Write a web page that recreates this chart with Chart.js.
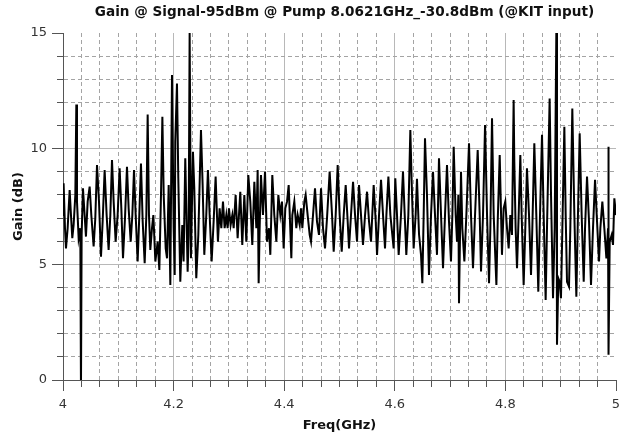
<!DOCTYPE html>
<html lang="en">
<head>
<meta charset="UTF-8">
<title>Gain @ Signal-95dBm @ Pump 8.0621GHz_-30.8dBm</title>
<script src="https://cdn.jsdelivr.net/npm/chart.js@4"></script>
<style>
  html, body { margin: 0; padding: 0; background: #ffffff; }
  #gainChart { display: block; }
</style>
</head>
<body>
<canvas id="gainChart" width="619" height="437"></canvas>
<script>
// Gain trace: frequency (GHz) and gain (dB), peaks and valleys of the sweep
const freqGHz = [
  4.0000,4.0011,4.0036,4.0054,4.0084,4.0120,4.0144,4.0168,4.0192,4.0223,
  4.0241,4.0253,4.0283,4.0313,4.0325,4.0337,4.0361,4.0391,4.0415,4.0446,
  4.0482,4.0512,4.0554,4.0584,4.0615,4.0651,4.0687,4.0717,4.0753,4.0789,
  4.0825,4.0856,4.0886,4.0916,4.0952,4.0988,4.1024,4.1055,4.1085,4.1121,
  4.1157,4.1187,4.1224,4.1254,4.1284,4.1314,4.1350,4.1380,4.1410,4.1441,
  4.1477,4.1507,4.1531,4.1555,4.1579,4.1609,4.1634,4.1670,4.1712,4.1742,
  4.1772,4.1797,4.1821,4.1857,4.1881,4.1911,4.1941,4.1971,4.2001,4.2020,
  // 4.20 - 4.40
  4.2030,4.2061,4.2085,4.2121,4.2157,4.2181,4.2211,4.2254,4.2272,4.2290,
  4.2314,4.2350,4.2374,4.2410,4.2447,4.2495,4.2525,4.2555,4.2591,4.2621,
  4.2652,4.2688,4.2724,4.2760,4.2784,4.2802,4.2832,4.2863,4.2893,4.2923,
  4.2953,4.2977,4.3001,4.3031,4.3062,4.3086,4.3122,4.3158,4.3206,4.3242,
  4.3279,4.3315,4.3351,4.3387,4.3423,4.3460,4.3496,4.3520,4.3538,4.3556,
  4.3580,4.3616,4.3653,4.3689,4.3725,4.3749,4.3785,4.3821,4.3858,4.3894,
  4.3930,4.3960,
  // 4.40 - 4.60
  4.3990,4.4020,4.4051,4.4081,4.4129,4.4147,4.4183,4.4219,4.4244,4.4280,
  4.4304,4.4328,4.4364,4.4388,4.4424,4.4461,4.4485,4.4521,4.4557,4.4593,
  4.4629,4.4666,4.4702,4.4738,4.4774,4.4822,4.4865,4.4895,4.4931,4.4967,
  4.5003,4.5040,4.5076,4.5112,4.5148,4.5172,4.5208,4.5245,4.5281,4.5317,
  4.5353,4.5389,4.5425,4.5462,4.5498,4.5534,4.5570,4.5618,4.5655,4.5679,
  4.5715,4.5751,4.5787,4.5823,4.5848,4.5884,4.5920,
  // 4.60 - 4.80
  4.5979,4.6009,4.6040,4.6070,4.6112,4.6148,4.6184,4.6208,4.6245,4.6281,
  4.6305,4.6341,4.6377,4.6401,4.6438,4.6474,4.6498,4.6522,4.6546,4.6582,
  4.6618,4.6655,4.6691,4.6727,4.6763,4.6799,4.6836,4.6872,4.6908,4.6944,
  4.6980,4.7016,4.7041,4.7065,4.7101,4.7125,4.7149,4.7161,4.7197,4.7221,
  4.7258,4.7294,4.7342,4.7378,4.7414,4.7451,4.7499,4.7535,4.7559,4.7595,
  4.7632,4.7668,4.7704,4.7728,4.7758,4.7788,4.7837,4.7861,4.7897,
  // 4.80 - 5.00
  4.7938,4.7968,4.7998,4.8029,4.8059,4.8089,4.8119,4.8149,4.8161,4.8185,
  4.8210,4.8240,4.8270,4.8294,4.8330,4.8360,4.8390,4.8427,4.8463,4.8487,
  4.8523,4.8559,4.8595,4.8620,4.8662,4.8692,4.8728,4.8752,4.8800,4.8825,
  4.8861,4.8891,4.8921,4.8933,4.8957,4.8981,4.9005,4.9030,4.9066,4.9090,
  4.9114,4.9150,4.9174,4.9210,4.9247,4.9283,4.9307,4.9343,4.9379,4.9416,
  4.9440,4.9476,4.9512,4.9548,4.9584,4.9621,4.9657,4.9693,4.9717,4.9753,
  4.9789,4.9826,4.9856,4.9862,4.9868,4.9886,4.9922,4.9946,4.9970,5.0000
];

const gainDb = [
  7.13,8.50,6.56,5.69,6.56,8.21,7.13,6.13,6.70,8.00,
  11.91,7.71,6.13,6.56,-0.5,6.27,8.29,7.13,6.20,7.71,
  8.36,7.13,5.77,6.99,9.29,7.71,5.33,6.85,9.08,7.13,
  5.62,7.13,9.51,7.71,5.98,7.13,9.15,7.42,5.26,6.99,
  9.22,7.42,5.98,7.13,9.08,7.13,5.12,7.13,9.36,6.85,
  5.05,7.13,11.48,7.13,5.62,6.56,7.13,5.12,5.98,4.76,
  8.00,11.38,8.00,5.69,5.26,8.43,4.11,13.18,6.56,4.54,
  // 4.20 - 4.40
  10.30,12.82,8.72,4.25,6.70,5.12,9.58,4.68,6.27,15.05,
  5.26,9.87,8.29,4.40,6.27,10.81,8.43,5.41,7.13,9.08,
  7.13,5.12,6.85,8.79,7.13,5.98,7.42,6.56,7.71,6.56,
  7.13,6.56,7.42,6.70,7.13,6.56,8.00,6.13,8.14,5.84,
  8.00,5.98,8.86,7.71,5.84,8.57,6.56,9.08,4.18,6.56,
  8.86,7.13,9.01,5.98,6.56,5.41,8.86,7.13,5.98,8.00,
  7.13,7.71,
  // 4.40 - 4.60
  5.69,7.42,7.71,8.43,5.26,7.13,7.71,6.56,7.13,6.70,
  7.42,6.56,7.71,8.00,7.13,6.27,5.98,7.13,8.29,6.85,
  6.27,8.29,6.56,5.69,6.99,9.01,7.13,5.55,7.13,9.29,
  7.13,5.55,7.13,8.43,6.85,5.69,7.13,8.57,7.13,5.98,
  8.43,7.13,5.84,7.13,8.14,6.85,5.98,8.43,6.85,5.41,
  7.13,8.65,7.13,5.69,7.13,8.79,7.13,
  // 4.60 - 4.80
  5.69,8.72,7.13,5.41,7.13,9.01,6.85,5.41,7.13,10.81,
  8.57,5.69,7.13,8.70,6.30,5.41,4.18,7.13,10.45,8.00,
  4.54,7.13,9.00,7.13,5.41,9.58,7.13,4.83,7.13,9.29,
  6.85,5.12,7.13,10.08,7.13,5.98,8.00,3.32,9.00,6.56,
  5.12,7.13,10.23,7.13,4.83,7.13,9.94,7.13,4.69,7.13,
  11.02,7.13,4.18,6.56,11.31,7.13,4.11,6.85,9.72,
  // 4.80 - 5.00
  5.41,7.42,7.71,6.56,5.69,7.13,6.27,12.10,9.44,6.56,
  4.83,7.13,9.72,7.13,4.11,6.56,9.15,7.13,4.54,6.56,
  10.23,7.13,3.82,6.56,10.60,7.13,3.46,6.56,12.17,8.00,
  3.53,6.56,15.05,1.52,4.40,4.25,3.53,6.56,10.95,7.13,
  4.25,4.04,6.56,11.74,7.13,3.60,6.56,10.66,7.13,4.25,
  6.56,8.79,6.85,4.11,6.56,8.65,6.85,5.12,6.56,7.71,
  6.56,5.26,6.56,10.08,1.09,5.98,6.27,5.84,7.85,7.13
];

// Labelled (major) ticks; minor ticks sit in between
const xMajorTicks = [4, 4.2, 4.4, 4.6, 4.8, 5];
const xTickLabels = ['4', '4.2', '4.4', '4.6', '4.8', '5'];
const yMajorTicks = [0, 5, 10, 15];
const yTickLabels = ['0', '5', '10', '15'];
const xMinorPerMajor = 6;   // 0.2 GHz split in 6
const yMinorPerMajor = 5;   // 5 dB split in 5

const chartTitle = 'Gain @ Signal-95dBm @ Pump 8.0621GHz_-30.8dBm (@KIT input)';

function buildTicks(majors, perMajor) {
  const out = [];
  for (let i = 0; i < majors.length - 1; i++) {
    const step = (majors[i + 1] - majors[i]) / perMajor;
    for (let k = 0; k < perMajor; k++) out.push(majors[i] + k * step);
  }
  out.push(majors[majors.length - 1]);
  return out;
}

function majorIndex(v, majors) {
  return majors.findIndex(m => Math.abs(m - v) < 1e-6);
}

const xTicks = buildTicks(xMajorTicks, xMinorPerMajor);
const yTicks = buildTicks(yMajorTicks, yMinorPerMajor);

const points = freqGHz.map((f, i) => ({ x: f, y: gainDb[i] }));

const axisColor = '#555555';
const majorGrid = '#b8b8b8';
const minorGrid = '#a4a4a4';

function gridColor(ctx, majors) {
  if (!ctx.tick) return majorGrid;
  const v = ctx.tick.value;
  // no grid line on the plot frame itself
  if (Math.abs(v - majors[0]) < 1e-6 || Math.abs(v - majors[majors.length - 1]) < 1e-6) return 'rgba(0,0,0,0)';
  return majorIndex(v, majors) >= 0 ? majorGrid : minorGrid;
}

function gridDash(ctx, majors) {
  if (!ctx.tick) return [];
  return majorIndex(ctx.tick.value, majors) >= 0 ? [] : [4, 3];
}

// title sits over the plot area, a little right of its centre
const plotTitle = {
  id: 'plotTitle',
  afterDraw(chart) {
    const { ctx, chartArea } = chart;
    ctx.save();
    ctx.font = 'bold 13.6px "DejaVu Sans"';
    ctx.fillStyle = '#111111';
    ctx.textAlign = 'center';
    ctx.textBaseline = 'middle';
    ctx.fillText(chartTitle, (chartArea.left + chartArea.right) / 2 + 5, 12);
    ctx.restore();
  }
};

const tickFont = { family: 'DejaVu Sans', size: 13 };
const axisTitleFont = { family: 'DejaVu Sans', size: 13, weight: 'bold' };

new Chart(document.getElementById('gainChart'), {
  type: 'line',
  data: {
    datasets: [{
      label: 'Gain',
      data: points,
      borderColor: '#000000',
      borderWidth: 2,
      pointRadius: 0,
      tension: 0,
      fill: false
    }]
  },
  options: {
    responsive: false,
    animation: false,
    devicePixelRatio: 1,
    layout: { padding: { top: 33, right: 3, left: 0, bottom: 0 } },
    plugins: {
      legend: { display: false },
      tooltip: { enabled: false },
      title: { display: false }
    },
    scales: {
      x: {
        type: 'linear',
        min: 4,
        max: 5,
        afterBuildTicks: axis => { axis.ticks = xTicks.map(v => ({ value: v })); },
        afterFit: axis => { axis.height = 57; axis.paddingLeft = 0; axis.paddingRight = 0; },
        ticks: {
          autoSkip: false,
          maxRotation: 0,
          padding: 6,
          color: '#333333',
          font: tickFont,
          callback: v => {
            const i = majorIndex(v, xMajorTicks);
            return i >= 0 ? xTickLabels[i] : '';
          }
        },
        grid: {
          color: ctx => gridColor(ctx, xMajorTicks),
          lineWidth: 1,
          tickLength: 11,
          tickColor: axisColor,
          tickBorderDash: ctx => (ctx.tick && majorIndex(ctx.tick.value, xMajorTicks) < 0) ? [6, 20] : []
        },
        border: {
          display: true,
          color: axisColor,
          width: 1,
          dash: ctx => gridDash(ctx, xMajorTicks)
        },
        title: {
          display: true,
          text: 'Freq(GHz)',
          color: '#111111',
          font: axisTitleFont,
          padding: { top: 0, bottom: 4 }
        }
      },
      y: {
        type: 'linear',
        min: 0,
        max: 15,
        afterBuildTicks: axis => { axis.ticks = yTicks.map(v => ({ value: v })); },
        afterFit: axis => { axis.width = 63; axis.paddingTop = 0; axis.paddingBottom = 0; },
        ticks: {
          autoSkip: false,
          padding: 5,
          color: '#333333',
          font: tickFont,
          callback: v => {
            const i = majorIndex(v, yMajorTicks);
            return i >= 0 ? yTickLabels[i] : '';
          }
        },
        grid: {
          color: ctx => gridColor(ctx, yMajorTicks),
          lineWidth: 1,
          tickLength: 11,
          tickColor: axisColor,
          // minor ticks: only the 6px next to the axis
          tickBorderDash: ctx => (ctx.tick && majorIndex(ctx.tick.value, yMajorTicks) < 0) ? [0, 5, 6, 20] : []
        },
        border: {
          display: true,
          color: axisColor,
          width: 1,
          dash: ctx => gridDash(ctx, yMajorTicks)
        },
        title: {
          display: true,
          text: 'Gain (dB)',
          color: '#111111',
          font: axisTitleFont,
          padding: { top: 11, bottom: 0 }
        }
      }
    }
  },
  plugins: [plotTitle]
});
</script>
</body>
</html>
